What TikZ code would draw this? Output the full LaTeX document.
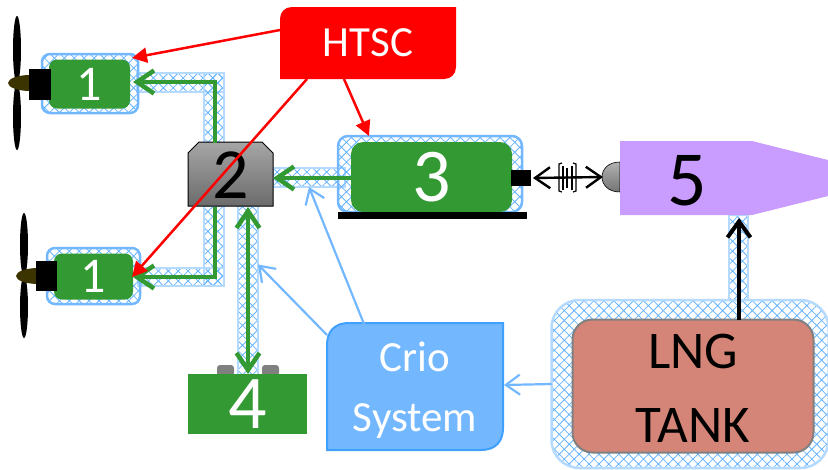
\documentclass[tikz,border=0pt]{standalone}
\usepackage{fontspec}
\setmainfont{Carlito}
\usetikzlibrary{arrows.meta,patterns.meta,shapes}
\definecolor{drivegreen}{HTML}{339933}
\definecolor{cryoblue}{HTML}{73B8FF}
\definecolor{cryoedge}{HTML}{3FA0FF}
\definecolor{pipeedge}{HTML}{B5DAFF}
\definecolor{hatchblue}{HTML}{66B3FF}
\definecolor{tankred}{HTML}{D48577}
\definecolor{turbine}{HTML}{C99CFF}
\definecolor{spinner}{HTML}{3B3300}

\begin{document}
\begin{tikzpicture}[x=1pt,y=-1pt,
	every node/.style={inner sep=0pt,outer sep=0pt},
	hatched/.style={pattern={Hatch[angle=45,distance=7pt,line width=0.8pt]},pattern color=hatchblue},
	pipe/.style={hatched,draw=pipeedge,line width=1.2pt},
	jacket/.style={hatched,draw=cryoblue,line width=2.5pt,rounded corners=8pt},
	greenbox/.style={fill=drivegreen,text=white,rounded corners=8pt},
	power/.style={draw=drivegreen,line width=4.5pt,-{Straight Barb[length=17pt,width=23pt]}},
	control/.style={draw=red,line width=2.5pt,-{Triangle[length=15pt,width=15pt]}},
	cryo/.style={draw=cryoblue,line width=2.2pt,-{Straight Barb[length=14pt,width=20pt]}},
	fuel/.style={draw=black,line width=4pt,-{Straight Barb[length=16pt,width=23pt]}},
	shaft/.style={draw=black,line width=2.4pt,{Straight Barb[length=15pt,width=21pt]}-{Straight Barb[length=15pt,width=21pt]}}]

	\useasboundingbox (0,0) rectangle (828,469);

	\node [pipe,minimum width=87pt,minimum height=19pt] at (180.5,82.5)		(pipe_a)	{};
	\node [pipe,minimum width=20pt,minimum height=70pt] at (214,108)		(pipe_b)	{};
	\node [pipe,minimum width=20pt,minimum height=80pt] at (214,246)		(pipe_c)	{};
	\node [pipe,minimum width=86pt,minimum height=18pt] at (181,277)		(pipe_d)	{};
	\node [pipe,minimum width=20pt,minimum height=169pt] at (248,290.5)		(pipe_e)	{};
	\node [pipe,minimum width=72pt,minimum height=19pt] at (309,177.5)		(pipe_f)	{};
	\node [pipe,minimum width=19pt,minimum height=85pt] at (738.5,257.5)	(pipe_g)	{};

	\fill [black] (17,49.5) ellipse (4 and 33.5);
	\fill [black] (17,116.5) ellipse (4 and 33.5);
	\fill [spinner] (30,83) ellipse (22 and 8);
	\fill [black] (24,244.5) ellipse (4 and 31.5);
	\fill [black] (24,307) ellipse (4 and 31);
	\fill [spinner] (38,276) ellipse (22 and 8);

	\node [jacket,minimum width=96pt,minimum height=59pt] at (90,83.5)		(jacket_a)	{};
	\node [greenbox,minimum width=81pt,minimum height=49pt,font=\fontsize{50}{50}\selectfont] at (89.5,84)	(motor_a)	{1};
	\node [fill=black,minimum width=22pt,minimum height=31pt] at (40,84.5)	(shaft_a)	{};
	\node [jacket,minimum width=93pt,minimum height=56pt] at (93.5,276)		(jacket_b)	{};
	\node [greenbox,minimum width=79pt,minimum height=46pt,font=\fontsize{50}{50}\selectfont] at (93.5,276.5)	(motor_b)	{1};
	\node [fill=black,minimum width=21pt,minimum height=30pt] at (46.5,276)	(shaft_b)	{};

	\shade [draw=black,line width=1pt,top color=black!35,bottom color=black!58] (188,206) -- (188,153) -- (199,142) -- (262,142) -- (273,153) -- (273,206) -- cycle;
	\node [minimum width=85pt,minimum height=64pt,font=\fontsize{72}{72}\selectfont] at (230.5,175)	(gear)	{2};

	\node [jacket,minimum width=184pt,minimum height=76pt,rounded corners=10pt] at (430,174)	(jacket_c)	{};
	\node [greenbox,minimum width=161pt,minimum height=70pt,rounded corners=12pt] at (431.5,177)	(gen)	{\raisebox{-4pt}{\fontsize{76}{76}\selectfont 3}};
	\node [fill=black,minimum width=189pt,minimum height=7pt] at (432.5,215.5)	(base)	{};
	\node [fill=black,minimum width=20pt,minimum height=16pt] at (521,178)	(coupling)	{};

	\shade [top color=black!30,bottom color=black!55,draw=black,line width=0.6pt] (620,162) .. controls (596,162) and (596,192) .. (620,192) -- cycle;
	\coordinate (bulb) at (603,177);
	\fill [turbine] (620,141) -- (752,141) -- (828,160) -- (828,196) -- (752,215) -- (620,215) -- cycle;
	\node [minimum width=132pt,minimum height=74pt,font=\fontsize{78}{78}\selectfont] at (687,181)	(turbo)	{5};

	\fill [black!50,rounded corners=3pt] (217,376) -- (217,365) -- (234,365) -- (234,376) -- cycle;
	\fill [black!50,rounded corners=3pt] (262,376) -- (262,365) -- (279,365) -- (279,376) -- cycle;
	\node [fill=drivegreen,text=white,minimum width=119pt,minimum height=60pt] at (247.5,404)	(battery)	{\raisebox{-3pt}{\fontsize{76}{76}\selectfont 4}};

	\node [jacket,rounded corners=28pt,draw=pipeedge,minimum width=277pt,minimum height=168pt] at (690,384)	(jacket_t)	{};
	\node [draw=black!50,line width=2pt,fill=tankred,rounded corners=20pt,minimum width=241pt,minimum height=133pt] at (693,386)	(tank)	{};
	\node [align=center,font=\fontsize{53}{74}\selectfont] at (693,388)	(tanktext)	{LNG\\TANK};

	\fill [red] (280,79) -- (280,19) .. controls (280,12) and (285,7) .. (292,7) -- (456,7) -- (456,67) .. controls (456,74) and (451,79) .. (444,79) -- cycle;
	\node [text=white,minimum width=176pt,minimum height=72pt,font=\fontsize{43}{43}\selectfont] at (368,43)	(htsc)	{HTSC};

	\draw [draw=cryoedge,fill=cryoblue,line width=2pt] (327,450) -- (327,345) .. controls (327,332) and (334,323) .. (349,323) -- (503,323) -- (503,428) .. controls (503,441) and (496,450) .. (481,450) -- cycle;
	\node [text=white,minimum width=176pt,minimum height=127pt,align=center,font=\fontsize{43}{60}\selectfont] at (415,390)	(crio)	{Crio\\System};

	\path	([xshift=-15.5pt]gear.north) edge [power,to path={|- (\tikztotarget)}]	([xshift=-5pt,yshift=1.5pt]jacket_a.east)
			([xshift=-15.5pt]gear.south) edge [power,to path={|- (\tikztotarget)}]	([xshift=-7pt,yshift=-1pt]jacket_b.east)
			(gen.west |- coupling)		 edge [power]								(gear.east |- coupling);

	\draw [power,{Straight Barb[length=17pt,width=23pt]}-{Straight Barb[length=17pt,width=23pt]}] ([xshift=17.5pt]gear.south) -- ([xshift=0.5pt]battery.north);
	\draw [shaft] ([xshift=2pt]coupling.east) -- (bulb);
	\draw [fuel] ([xshift=46pt]tank.north) -- ([xshift=46pt]tank.north |- turbo.south);

	\draw [line width=1.4pt] (563,166) -- (563,190) (567,168) -- (567,188) (572,166) -- (572,190);
	\draw [line width=1.2pt] (562,163) -- (559,164) -- (559,191) -- (562,192) (573,163) -- (576,164) -- (576,191) -- (573,192);

	\path	(htsc.west |- 0,30)			edge [control]	([xshift=-6pt,yshift=-4pt]jacket_a.north east)
			([xshift=-61pt]htsc.south)	edge [control]	([xshift=-8pt,yshift=-1pt]jacket_b.east)
			([xshift=-24pt]htsc.south)	edge [control]	([xshift=-61pt]jacket_c.north);

	\path	([xshift=-50pt]crio.north)	edge [cryo]	(pipe_f.south)
			([yshift=55pt]crio.west)	edge [cryo]	([yshift=26pt]pipe_e.east)
			(jacket_t.west)				edge [cryo]	([xshift=1pt,yshift=5pt]crio.east);

\end{tikzpicture}
\end{document}
